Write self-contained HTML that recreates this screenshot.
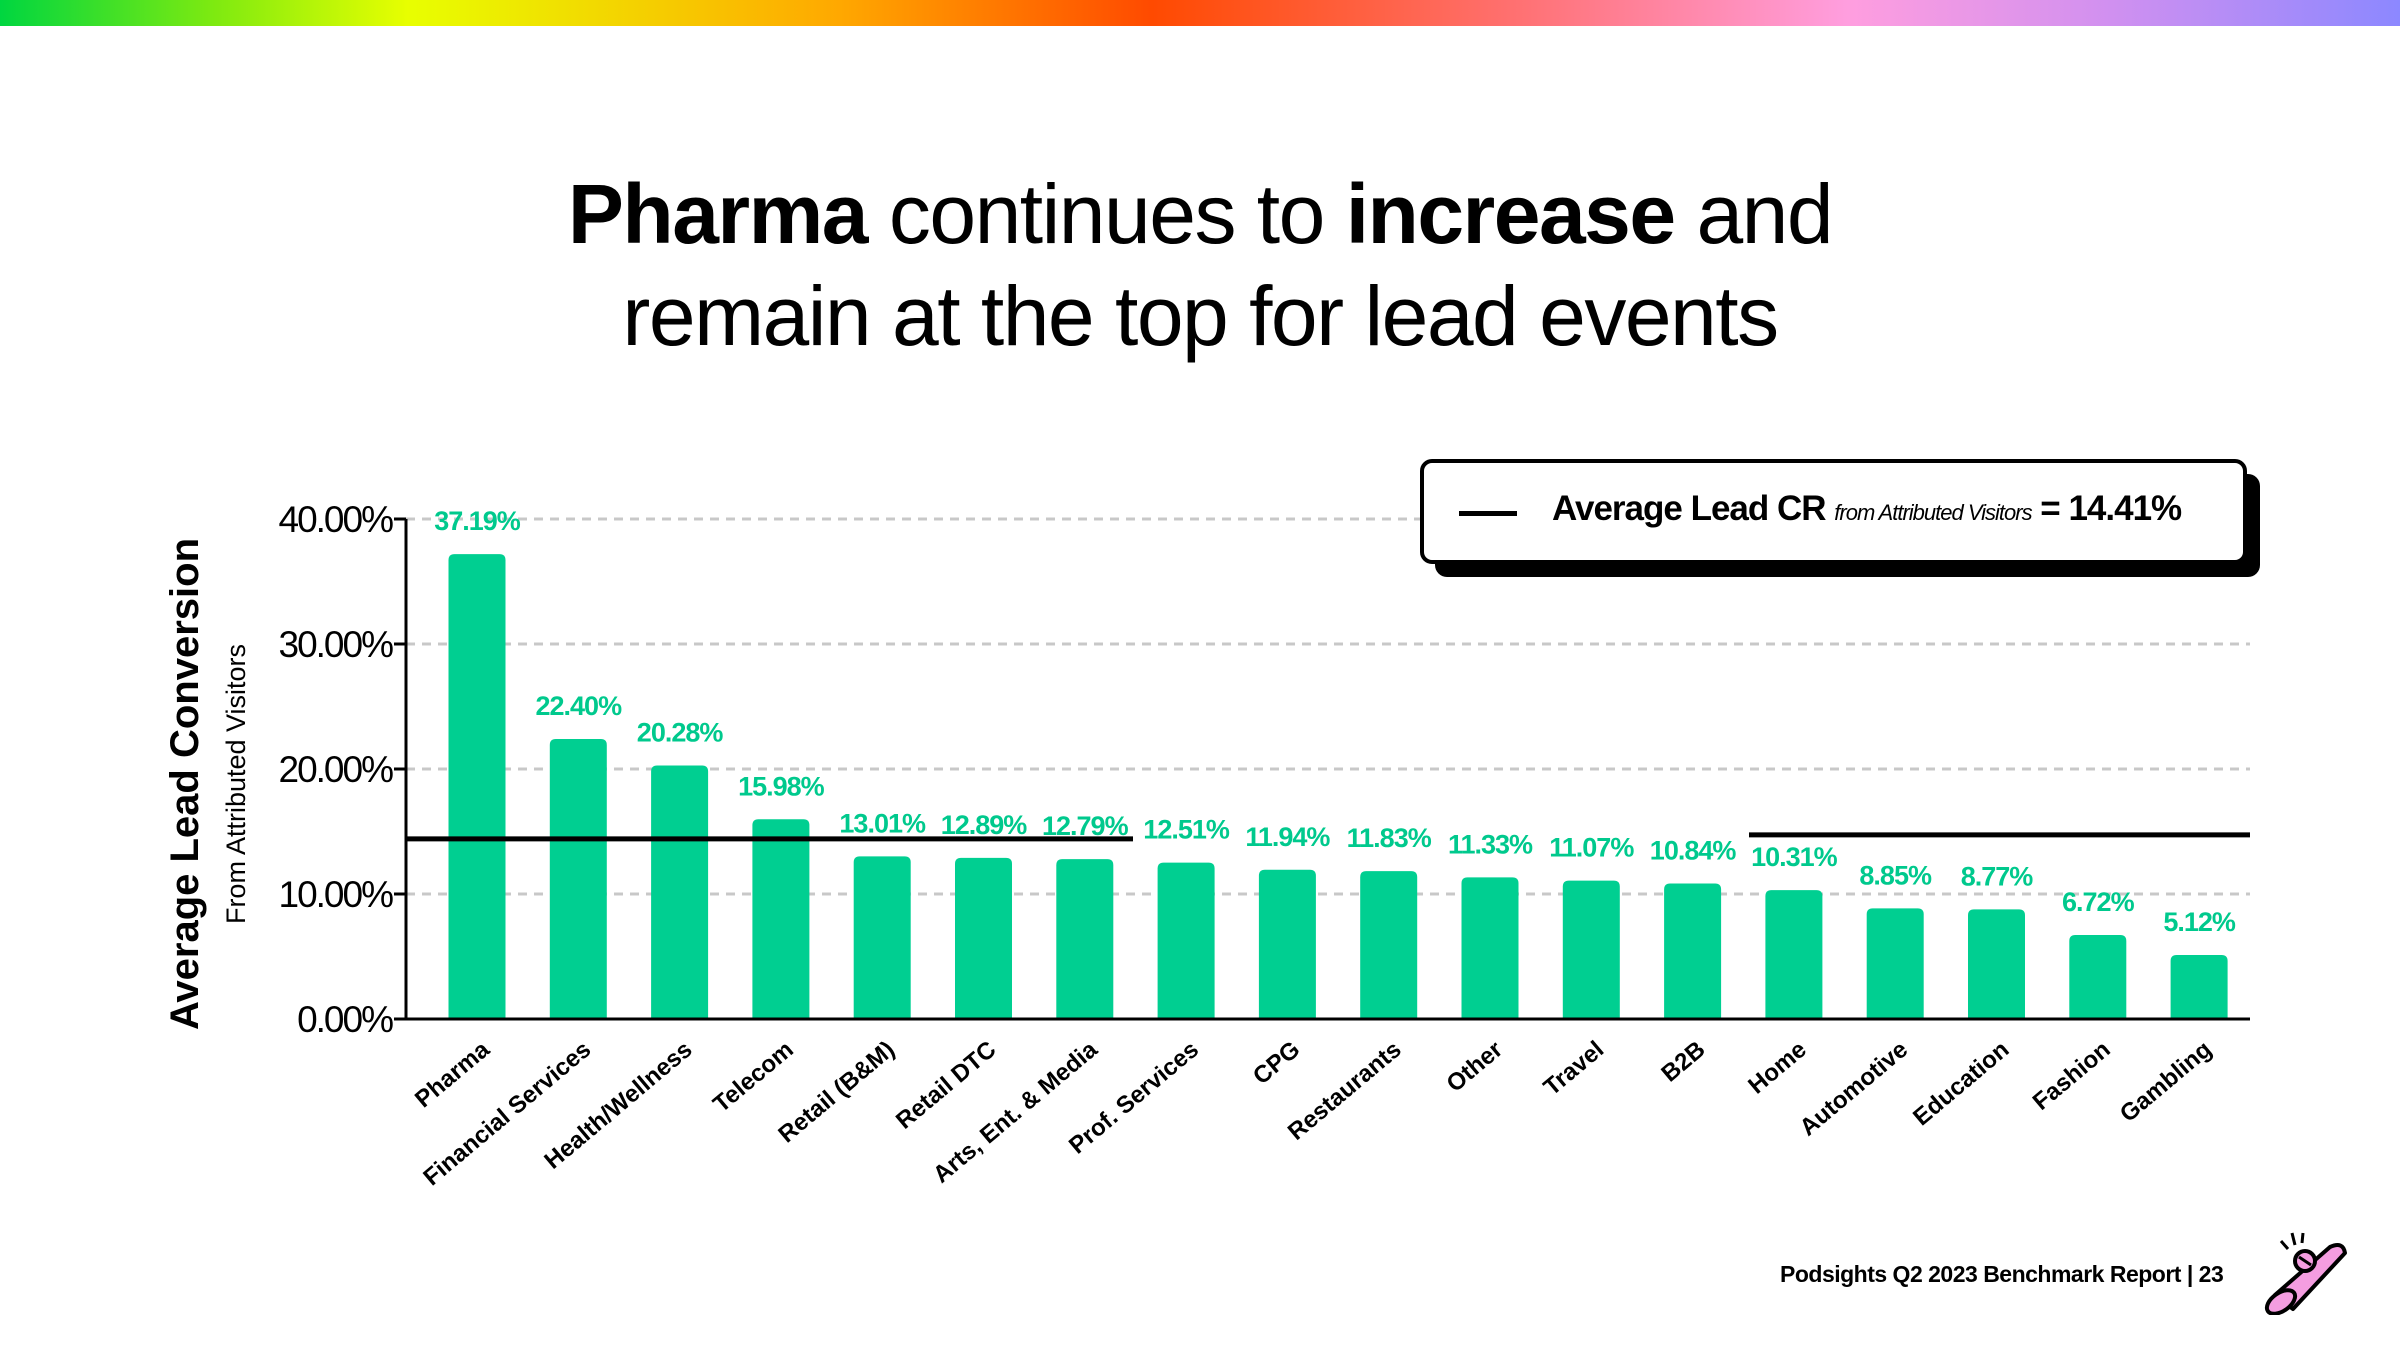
<!DOCTYPE html>
<html><head><meta charset="utf-8"><style>
html,body{margin:0;padding:0;background:#fff}
body{width:2400px;height:1350px;overflow:hidden;position:relative;font-family:"Liberation Sans",sans-serif}
#topbar{position:absolute;left:0;top:0;width:2400px;height:26px;background:linear-gradient(90deg,#00d640 0%,#7fea10 9%,#e8ff00 17%,#ffa800 35%,#ff4a00 48%,#ff7070 63%,#ff9edf 77%,#d090f0 88%,#8c88ff 100%)}
.title{position:absolute;left:0;width:2400px;text-align:center;font-size:84px;color:#000;letter-spacing:-1.5px}
</style></head><body>
<div id="topbar"></div>
<div class="title" style="top:166px"><b>Pharma</b> continues to <b>increase</b> and</div>
<div class="title" style="top:268px">remain at the top for lead events</div>
<svg id="chart" width="2400" height="1350" style="position:absolute;left:0;top:0"></svg>
<div style="position:absolute;left:1435px;top:474px;width:825px;height:103px;background:#000;border-radius:12px"></div>
<div style="position:absolute;left:1420px;top:459px;width:819px;height:97px;background:#fff;border:4px solid #000;border-radius:12px">
<div style="position:absolute;left:35px;top:48px;width:58px;height:5px;background:#000"></div>
<div style="position:absolute;left:128px;top:26px;font-size:35px;font-weight:bold;white-space:nowrap;letter-spacing:-1px">Average Lead CR <i style="font-size:22px;font-weight:normal">from Attributed Visitors</i> = 14.41%</div>
</div>
<div style="position:absolute;left:1780px;top:1261px;font-size:23px;font-weight:bold;letter-spacing:-0.5px;white-space:nowrap">Podsights Q2 2023 Benchmark Report | 23</div>
<svg style="position:absolute;left:2255px;top:1225px" width="100" height="90">
<path d="M20 70 L75 22 Q88 16 90 28 L38 84 Z" fill="#f49de0" stroke="#000" stroke-width="4" stroke-linejoin="round"/>
<ellipse cx="26" cy="77" rx="16" ry="9" fill="#f49de0" stroke="#000" stroke-width="4" transform="rotate(-35 26 77)"/>
<circle cx="50" cy="36" r="10" fill="#f49de0" stroke="#000" stroke-width="4"/>
<path d="M44 32 L56 40 M26 16 L33 24 M37 8 L40 20 M48 8 L47 18" stroke="#000" stroke-width="3"/>
</svg>
<script>
const categories=["Pharma","Financial Services","Health/Wellness","Telecom","Retail (B&M)","Retail DTC","Arts, Ent. & Media","Prof. Services","CPG","Restaurants","Other","Travel","B2B","Home","Automotive","Education","Fashion","Gambling"];
const values=[37.19,22.40,20.28,15.98,13.01,12.89,12.79,12.51,11.94,11.83,11.33,11.07,10.84,10.31,8.85,8.77,6.72,5.12];
const yTicks=[0,10,20,30,40];
const yTickLabels=["0.00%","10.00%","20.00%","30.00%","40.00%"];
const average=14.41;

const NS="http://www.w3.org/2000/svg";
const svg=document.getElementById('chart');
const X0=406,X1=2250,Y0=1019,Y40=519,first=477,step=101.3,bw=57;
function y(v){return Y0-(v/40)*(Y0-Y40);}
function x(i){return first+i*step;}
function mk(t,a,parent){const e=document.createElementNS(NS,t);for(const k in a)e.setAttribute(k,a[k]);(parent||svg).appendChild(e);return e;}

yTicks.forEach((t,i)=>{
  if(t>0){const g=mk('line',{x1:X0,x2:X1,y1:y(t),y2:y(t),stroke:'#c8c8c8','stroke-width':3,'stroke-dasharray':'9 7'});
  
  }
  const tk=mk('line',{x1:X0-12,x2:X0,y1:y(t),y2:y(t),stroke:'#000','stroke-width':3});
  
  
  const l=mk('text',{x:392,y:y(t)+13,'text-anchor':'end','font-size':37,'font-family':'Liberation Sans, sans-serif','letter-spacing':'-2'});
  l.textContent=yTickLabels[i];
  
  
});

values.forEach((v,i)=>{
  const cx=x(i),top=y(v);
  const r=mk('path',{d:`M${cx-bw/2} ${Y0} L${cx-bw/2} ${top+6} Q${cx-bw/2} ${top} ${cx-bw/2+6} ${top} L${cx+bw/2-6} ${top} Q${cx+bw/2} ${top} ${cx+bw/2} ${top+6} L${cx+bw/2} ${Y0} Z`,fill:'#00cf91'});
  
  
  const vl=mk('text',{x:cx,y:top-24,'text-anchor':'middle','font-size':27,'font-weight':'bold',fill:'#00c98d','font-family':'Liberation Sans, sans-serif','letter-spacing':'-1'});
  vl.textContent=v.toFixed(2)+'%';
  
  
  const xl=mk('text',{x:cx+14,y:1052,'text-anchor':'end','font-size':24,'font-weight':'bold','font-family':'Liberation Sans, sans-serif',transform:`rotate(-40 ${cx+14} 1052)`});
  xl.textContent=categories[i];
  
  
});

const ax=mk('line',{x1:X0,x2:X0,y1:y(40),y2:Y0,stroke:'#000','stroke-width':3});


const bx=mk('line',{x1:X0-12,x2:X1,y1:Y0,y2:Y0,stroke:'#000','stroke-width':3});


const a1=mk('line',{x1:X0,x2:1133,y1:y(average),y2:y(average),stroke:'#000','stroke-width':5});


const a2=mk('line',{x1:1749,x2:X1,y1:y(average)-4,y2:y(average)-4,stroke:'#000','stroke-width':5});



const t1=mk('text',{x:0,y:0,'text-anchor':'middle','font-size':40,'font-weight':'bold','font-family':'Liberation Sans, sans-serif',transform:'translate(198 784) rotate(-90)'});
t1.textContent='Average Lead Conversion';


const t2=mk('text',{x:0,y:0,'text-anchor':'middle','font-size':27,'font-family':'Liberation Sans, sans-serif',transform:'translate(245 784) rotate(-90)'});
t2.textContent='From Attributed Visitors';


</script>
</body></html>
